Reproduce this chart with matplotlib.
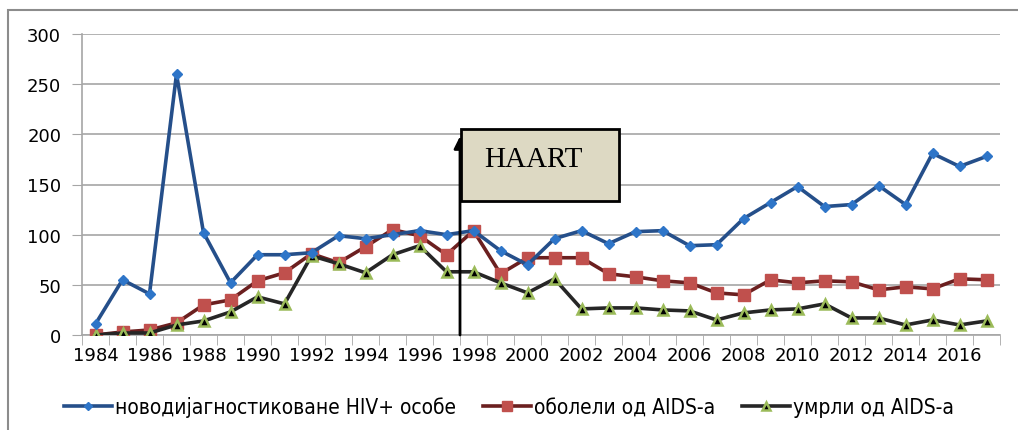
import matplotlib
matplotlib.use("Agg")
import matplotlib.pyplot as plt
from matplotlib.patches import Rectangle

years = list(range(1984, 2018))
hiv_new = [11, 55, 41, 260, 102, 52, 80, 80, 82, 99, 96, 100, 104, 100, 104, 84, 70,
           96, 104, 91, 103, 104, 89, 90, 116, 132, 148, 128, 130, 149, 130, 181, 168, 178]
aids_cases = [0, 3, 5, 12, 30, 35, 54, 62, 81, 72, 88, 105, 99, 80, 104, 61, 77,
              77, 77, 61, 58, 54, 52, 42, 40, 55, 52, 54, 53, 45, 48, 46, 56, 55]
aids_deaths = [0, 2, 2, 10, 14, 23, 38, 31, 79, 71, 62, 80, 89, 63, 63, 52, 42,
               56, 26, 27, 27, 25, 24, 15, 22, 25, 26, 31, 17, 17, 10, 15, 10, 14]
labels = ["новодијагностиковане HIV+ особе", "оболели од AIDS-а", "умрли од AIDS-а"]

W, H = 1018, 431
fig = plt.figure(figsize=(W / 100, H / 100), dpi=100)
ax = fig.add_axes([82 / W, (H - 336) / H, (1000 - 82) / W, (336 - 35) / H])

# outer chart frame
fig.patches.append(Rectangle((8 / W, -0.1), 1.2, (H - 11) / H + 0.1, transform=fig.transFigure,
                             fill=False, edgecolor="#8c8c8c", linewidth=1.5))

x = list(range(len(years)))
ax.plot(x, hiv_new, color="#254f8a", lw=2.6, marker="D", ms=5.5,
        mfc="#2e75c8", mec="#2e75c8", label=labels[0], zorder=4)
ax.plot(x, aids_cases, color="#6b1f1f", lw=2.6, marker="s", ms=9,
        mfc="#c0504d", mec="#c0504d", label=labels[1], zorder=3)
ax.plot(x, aids_deaths, color="#262626", lw=2.6, marker="^", ms=7.5,
        mfc="black", mec="#9bbb59", mew=1.8, label=labels[2], zorder=3)

ax.set_xlim(-0.5, len(years) - 0.5)
ax.set_ylim(0, 300)
ax.set_yticks(range(0, 301, 50))
ax.set_xticks(x[::2])
ax.set_xticklabels([str(y) for y in years[::2]])
ax.set_xticks([i - 0.5 for i in range(len(years) + 1)], minor=True)
ax.tick_params(axis="x", which="major", length=0, pad=8, labelsize=13)
ax.tick_params(axis="x", which="minor", length=7, color="#a6a6a6", direction="out")
ax.tick_params(axis="y", length=7, color="#a6a6a6", pad=8, labelsize=13)
ax.grid(axis="y", color="#a6a6a6", lw=1.2)
ax.set_axisbelow(True)
for side in ["top", "right"]:
    ax.spines[side].set_visible(False)
for side in ["left", "bottom"]:
    ax.spines[side].set_color("#a6a6a6")
    ax.spines[side].set_linewidth(1.2)

# HAART marker
haart_x = 13.5
ax.annotate("", xy=(haart_x, 198), xytext=(haart_x, 0),
            arrowprops=dict(arrowstyle="-|>", color="black", lw=2, mutation_scale=18,
                            shrinkA=0, shrinkB=0), zorder=5)
ax.add_patch(Rectangle((haart_x + 0.05, 134), 5.85, 71, facecolor="#ddd9c3",
                       edgecolor="black", lw=2, zorder=6))
ax.text(16.2, 175, "HAART", family="Liberation Serif", fontsize=21,
        ha="center", va="center", zorder=7)

fig.legend(loc="center", bbox_to_anchor=(0.5, (H - 408) / H), ncol=3, frameon=False,
           prop={"family": "DejaVu Sans", "stretch": "condensed", "size": 15},
           handlelength=2.3, columnspacing=1.3, handletextpad=0.15, markerscale=0.8)

fig.savefig("out.png", dpi=100)
